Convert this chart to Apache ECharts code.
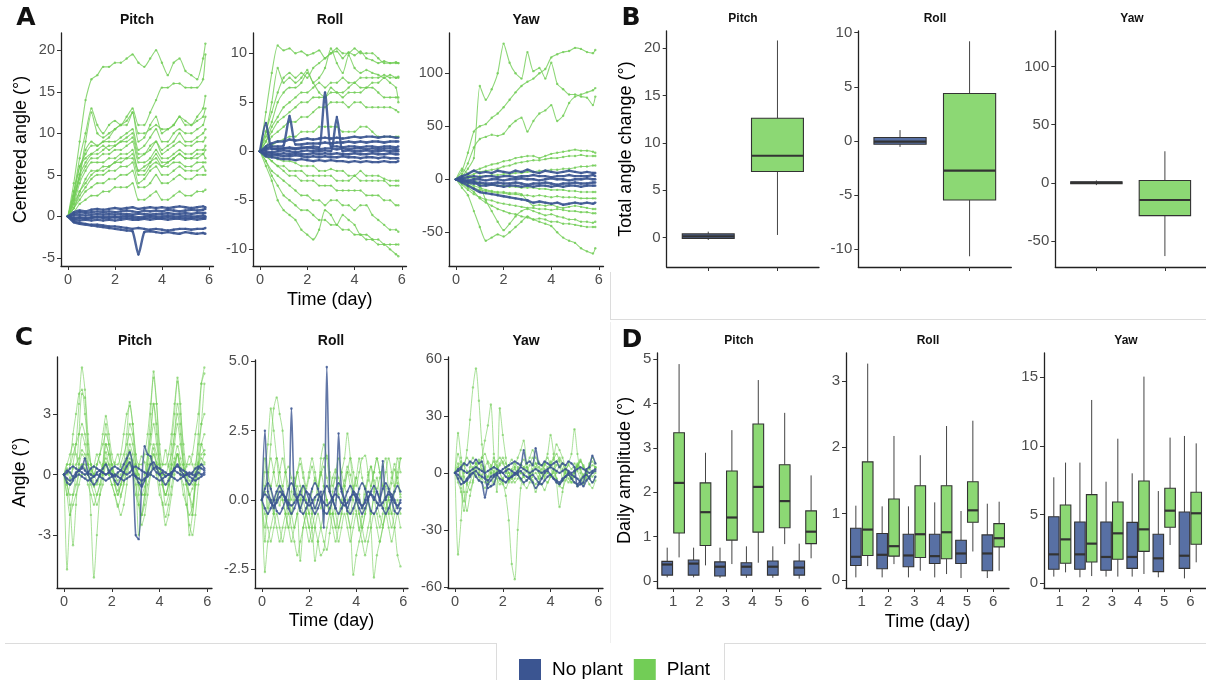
<!DOCTYPE html>
<html><head><meta charset="utf-8">
<script src="https://cdn.jsdelivr.net/npm/echarts@6/dist/echarts.min.js"></script>
<style>html,body{margin:0;padding:0;background:#fff}#c{width:1206px;height:680px}</style>
</head><body><div id="c"></div>
<script>
// ---------- DATA ----------
const groupNames = ['No plant', 'Plant'];
const timeA = [0,0.25,0.5,0.75,1,1.25,1.5,1.75,2,2.25,2.5,2.75,3,3.25,3.5,3.75,4,4.25,4.5,4.75,5,5.25,5.5,5.75,5.85];
const timeC = [0,0.125,0.25,0.375,0.5,0.625,0.75,0.875,1,1.125,1.25,1.375,1.5,1.625,1.75,1.875,2,2.125,2.25,2.375,2.5,2.625,2.75,2.875,3,3.125,3.25,3.375,3.5,3.625,3.75,3.875,4,4.125,4.25,4.375,4.5,4.625,4.75,4.875,5,5.125,5.25,5.375,5.5,5.625,5.75,5.875];

// A: centered angle, Pitch
const aPitchPlant = [
 [0,4,9,14,16.5, 17,18,18,18.5,18.5, 19,19.5,18.5,18,19, 20,18.5,17,18.5,19, 17.5,17,16.5,19,20.8],
 [0,3,7,10,13, 11,10,11,11.5,11, 12,13,11,11,12.5, 14,15.5,15.5,16,16, 15.5,15.5,15.5,16.5,19.5],
 [0,2,5,8,9, 8.5,9,9.5,10.5,11, 11.5,12.5,9,9.5,11, 12,10,10.5,11,12, 11.5,11,12,13,14.5],
 [0,3,6,7.5,8.5, 8.5,9,9,9,9.5, 10,10.5,8,8.5,9.5, 10.5,9,9,10,10.5, 10,10,10.5,11,12],
 [0,2.5,5,6.5,7.5, 8,8.5,8,8.5,9, 9,9.5,7,7.5,8, 9,7.5,8,8.5,9, 8.5,8.5,9,9,9.5],
 [0,2,4.5,6,7, 7,7.5,7.5,8,8, 8.5,9,6.5,6.5,7, 8,7,7,7.5,8, 7.5,7.5,8,8,8.5],
 [0,1.5,4,5.5,6.5, 6.5,6.5,7,7,7.5, 7.5,8,5.5,6,6.5, 7.5,6.5,6.5,7,7.5, 7,7,7,7.5,7],
 [0,1.5,3,4.5,5.5, 5.5,6,6,6.5,6.5, 7,7,5,5,6, 6.5,6,6,6.5,6.5, 6,6,6.5,6.5,6.5],
 [0,1,2.5,3.5,4.5, 5,5,5.5,5.5,6, 6,6.5,4,4.5,5.5, 6,5,5,5.5,6, 5.5,5.5,5.5,6,5.5],
 [0,1,2,3,3.5, 4,4,4.5,4.5,5, 5,5.5,3.5,3.5,4, 5,4,4,4.5,5, 4.5,4.5,5,5,5],
 [0,0.5,1.5,2,2.5, 2.5,3,3,3.5,3.5, 3.5,4,2,2,2.5, 3,2,2,2.5,3, 2.5,2.5,3,3,3.2],
 [0,2,5,9,12.5, 10,9.5,10,10.5,11, 11,12.5,10,10,10.5, 11,10.5,10.5,11,12, 11,11,11.5,12,13],
 [0,2.5,6,7,7.5, 7.5,8,8.5,8.5,9, 9.5,10,7.5,7.5,8.5, 9,8,8.5,9,10, 9,9,9.5,10,10.5],
 [0,1,3,4,5, 5.5,5.5,6,6.5,7, 7,7.5,5.5,5.5,6.5, 7,6,6.5,7,7.5, 7,7,7.5,7.5,8]
];
const aPitchNoPlant = [
 [0,0.3,0.5,0.4,0.5, 0.6,0.5,0.6,0.5,0.6, 0.7,0.6,0.5,0.7,0.6, 0.7,0.6,0.8,0.7,0.6, 0.7,0.8,0.7,0.8,0.9],
 [0,0.1,0.2,0.1,0.2, 0.3,0.2,0.3,0.2,0.3, 0.3,0.2,0.3,0.3,0.2, 0.3,0.3,0.4,0.3,0.3, 0.4,0.3,0.4,0.4,0.4],
 [0,-0.2,-0.1,-0.2,-0.1, 0,-0.1,0,-0.1,0, 0.1,0,-0.1,0,0.1, 0,0,0.1,0,0, 0.1,0,0,0.1,0],
 [0,-0.4,-0.5,-0.4,-0.5, -0.4,-0.5,-0.4,-0.5,-0.4, -0.3,-0.4,-0.4,-0.3,-0.4, -0.3,-0.3,-0.4,-0.3,-0.3, -0.4,-0.3,-0.4,-0.3,-0.3],
 [0,-0.6,-0.8,-0.9,-1, -1,-1.1,-1.2,-1.2,-1.3, -1.4,-1.5,-1.4,-1.5,-1.6, -1.5,-1.6,-1.7,-1.6,-1.5, -1.5,-1.6,-1.5,-1.5,-1.4],
 [0,-0.7,-0.9,-1,-1.1, -1.2,-1.3,-1.4,-1.5,-1.6, -1.7,-1.8,-4.6,-1.9,-1.8, -1.9,-2,-1.9,-2,-2.1, -1.9,-2,-2.1,-2,-2.1],
 [0,0.5,0.7,0.6,0.8, 0.9,0.8,0.9,1,0.9, 1,1.1,0.9,1,1.1, 1,1.1,1,1.1,1.2, 1.1,1,1.1,1.2,1.1],
 [0,-0.3,-0.2,-0.3,-0.2, -0.1,-0.2,-0.2,-0.1,-0.2, -0.1,-0.2,-0.3,-0.2,-0.1, -0.2,-0.2,-0.1,-0.2,-0.1, -0.2,-0.2,-0.1,-0.2,-0.1]
];
// A: Roll
const aRollPlant = [
 [0,4,8,10.8,10.3, 10.5,10,10.2,9.8,10, 10.3,9.5,10,10.2,9.5, 10.1,9.8,10.2,9.5,9.3, 9,9.2,9,9.1,9],
 [0,2,5,8.5,7, 7.5,7,7.5,8.3,7, 7.5,8.5,10.5,9,8, 9.8,8.5,8,8.3,8, 7.8,7.5,7.8,7.5,7.6],
 [0,1,2.5,3.5,4.5, 5,5.5,6,6,6.5, 7,6.5,7,7,7.5, 7,7,7.5,7.5,7.5, 7.5,7.8,7.5,7.5,7.5],
 [0,1.5,3,5,6, 6.5,6.5,7,8,7, 6,5.5,6.5,6,6, 6.5,7,6.5,6.5,7, 7,7.5,7,6.5,5],
 [0,1,2,3,3.5, 4,4.5,5,5,5.5, 5.5,5.5,6,6,5.5, 6,6,6,6.5,6.5, 6,5.5,5.5,5.5,5.5],
 [0,0.5,1.5,2,2.5, 3,3,3.5,3.5,4, 4.5,4.5,5,5,5, 4.5,5,5,4.5,4.5, 4.5,4.5,4.5,4.2,4],
 [0,-0.5,-1,-1.5,-1.5, -2,-2,-2,-2.5,-2.5, -2.5,-2.5,-2.5,-3,-3, -3,-2.5,-3,-3,-3, -3,-3,-3.5,-3.5,-3.5],
 [0,-0.5,-1,-1.5,-2, -2.5,-2.5,-3,-3,-3, -3.5,-3.5,-3.5,-4,-4, -4,-4,-4,-4.5,-4.5, -4.5,-5,-5,-5.5,-5.5],
 [0,-1,-2,-2.5,-3, -3.5,-4,-4.5,-4.5,-5, -5,-5.5,-5,-5,-5.5, -5.5,-6,-5.5,-5.5,-6.5, -7,-7.5,-8,-8,-8.2],
 [0,-1,-2.5,-3.5,-4.5, -5,-5.5,-6,-6,-6.5, -7,-7,-7.5,-7.5,-8, -8,-8.5,-8.5,-9,-9, -9,-9.5,-9.5,-9.5,-9.5],
 [0,-1.5,-3,-5,-6, -6.5,-7,-8,-8.5,-9, -8,-6,-6.5,-7.5,-6.5, -7,-7.5,-8.5,-8.5,-9, -9.5,-9.5,-10,-10.5,-10.7],
 [0,-0.3,-0.5,-0.8,-1, -1,-1.2,-1.5,-1.5,-1.5, -2,-2,-1.8,-2,-2, -2.5,-2.5,-2,-2.5,-2.5, -2.5,-2.8,-3,-3,-3],
 [0,2,4,6,7.5, 8,7.5,8,7.5,8.5, 9,9.5,10,10.5,10, 10,10.5,10,10,10, 9.5,9,9,9,9],
 [0,0.3,0.6,1,1.2, 1.5,1.5,2,2,2, 2.5,2.5,2.5,2.5,2, 2,2,2.5,2.5,2, 1.5,1.5,1.5,1.5,1.5]
];
const aRollNoPlant = [
 [0,0.5,0.8,1,1, 1.2,1.1,1.2,1.3,1.2, 1.3,1.4,1.3,1.4,1.3, 1.4,1.5,1.4,1.5,1.5, 1.4,1.5,1.5,1.4,1.4],
 [0,0.3,0.5,0.5,0.6, 3.6,0.7,0.7,0.8,0.8, 0.8,0.9,0.8,0.9,0.9, 1,0.9,1,0.9,1, 1,0.9,1,1,1],
 [0,2.9,0.2,0.3,0.3, 0.4,0.3,0.4,0.4,0.5, 0.4,6,0.5,0.5,0.4, 0.5,0.5,0.4,0.5,0.5, 0.4,0.5,0.5,0.4,0.5],
 [0,0,-0.1,0,0.1, 0,-0.1,0,0.1,0, 0,0.1,0,3.5,0, 0.1,0,0,0.1,0, 0,0.1,0,0,0],
 [0,-0.3,-0.4,-0.4,-0.5, -0.5,-0.4,-0.5,-0.6,-0.5, -0.6,-0.5,-0.6,-0.6,-0.5, -0.6,-0.6,-0.7,-0.6,-0.6, -0.7,-0.6,-0.7,-0.7,-0.7],
 [0,-0.5,-0.6,-0.7,-0.8, -0.8,-0.9,-0.8,-0.9,-1, -0.9,-1,-0.9,-1,-1, -1.1,-1,-1.1,-1,-1.1, -1.1,-1,-1.1,-1.1,-1],
 [0,0.2,0.3,0.2,0.3, 0.3,0.2,0.3,0.4,0.3, 0.2,0.3,0.3,0.2,0.3, 0.2,0.3,0.3,0.2,0.3, 0.2,0.3,0.3,0.2,0.2],
 [0,-0.2,-0.2,-0.3,-0.2, -0.3,-0.2,-0.3,-0.3,-0.2, -0.3,-0.2,-0.3,-0.2,-0.3, -0.3,-0.2,-0.3,-0.3,-0.2, -0.3,-0.3,-0.2,-0.3,-0.3]
];
// A: Yaw
const aYawPlant = [
 [0,8,25,45,50, 52,58,62,68,75, 82,88,92,95,100, 104,115,118,120,121, 124,123,120,119,122],
 [0,3,10,20,88, 75,85,100,128,110, 100,95,120,102,105, 95,110,90,85,80, 80,78,77,70,78],
 [0,5,15,30,38, 40,42,41,43,50, 55,58,45,55,62, 65,70,55,60,72, 78,80,82,84,86],
 [0,2,5,8,10, 12,14,15,17,18, 20,21,22,22,20, 22,24,25,26,27, 28,27,27,26,25],
 [0,1,3,5,7, 8,9,10,12,13, 15,16,17,18,18, 19,20,20,21,22, 22,23,22,22,22],
 [0,0,1,2,3, 3,4,4,5,5, 6,6,7,7,8, 8,9,9,10,10, 11,12,12,13,13],
 [0,-3,-5,-8,-10, -11,-12,-13,-13,-14, -14,-15,-15,-16,-15, -16,-17,-16,-17,-17, -17,-18,-18,-18,-18],
 [0,-5,-10,-14,-17, -19,-20,-22,-23,-24, -25,-26,-27,-27,-28, -28,-29,-28,-29,-30, -30,-31,-31,-32,-32],
 [0,-8,-15,-30,-45, -58,-55,-52,-54,-50, -45,-40,-35,-38,-40, -42,-44,-50,-55,-58, -60,-65,-68,-70,-65],
 [0,-4,-8,-12,-18, -22,-25,-28,-30,-32, -33,-35,-36,-38,-37, -38,-40,-40,-42,-42, -43,-44,-45,-45,-45],
 [0,-2,-4,-6,-8, -10,-11,-12,-12,-13, -13,-14,-20,-25,-24, -25,-24,-26,-27,-26, -25,-26,-27,-28,-28],
 [0,10,5,0,-5, -20,-30,-40,-48,-42, -35,-30,-28,-30,-32, -34,-33,-35,-36,-38, -38,-40,-40,-41,-40],
 [0,-1,-2,-3,-4, -5,-5,-6,-6,-7, -7,-8,-8,-8,-9, -9,-10,-10,-10,-11, -11,-12,-12,-12,-12]
];
const aYawNoPlant = [
 [0,3,5,8,6, 7,6,8,7,6, 8,7,9,7,6, 8,7,6,7,8, 7,6,7,6,6],
 [0,1,2,3,2, 3,3,2,3,3, 2,3,3,4,3, 3,2,3,3,4, 3,3,3,4,3],
 [0,0,-1,0,0, -1,0,0,-1,0, 0,1,0,0,-1, 0,1,0,0,-1, 0,0,1,0,0],
 [0,-2,-3,-4,-3, -4,-4,-3,-4,-4, -3,-4,-5,-4,-4, -3,-4,-5,-4,-4, -3,-4,-4,-3,-3],
 [0,-3,-6,-9,-12, -13,-14,-15,-16,-17, -18,-19,-20,-22,-21, -22,-23,-22,-24,-23, -22,-23,-22,-23,-22],
 [0,-1,-2,-2,-6, -6,-5,-6,-7,-6, -6,-7,-6,-7,-6, -6,-7,-6,-7,-6, -6,-7,-6,-6,-6]
];

// C: angle (detrended), Pitch
const cPitchPlant = [
 [0,-1,-0.5,0.5,1.5,3.5,5.3,4.2, 2,0.5,-0.5,-1,-0.5,0.5,2.5,1.5, 0.5,-0.5,-1,-0.5,0.5,2,3.6,2.5, 1,-1,-2,-1,1,3,5.1,3.5, 1,-0.5,-1,-0.5,1.5,3,4.8,3.5, 1,0,-1,-1.5,0,2,4.5,5.3],
 [0,-4.7,-2,-1,0,2,4,3.8, 1,-2,-5.1,-3,-1,0,1.5,1, 0,-0.5,-1,-0.5,0,1,2.5,2, 0.5,-0.5,-1,-1,0.5,2,3.5,2.5, 0.5,-0.5,-1.5,-1,0.5,2,3.5,2.5, 0.5,-0.5,-1,-2,-0.5,1,2.5,4.5],
 [0,-0.5,-1.5,-3.5,-1.5,0.5,2,1.5, 0.5,0,-0.5,-0.5,0,0.5,1.5,1, 0.5,0,-0.5,-1,-0.5,0.5,1.5,1, 0,-3,-2,-1,0.5,1.5,2.5,1.5, 0.5,-0.5,-1,-0.5,0.5,1.5,2.5,1.5, 0.5,-0.5,-3,-2,-0.5,0.5,1.5,2],
 [0,0.5,0.5,1,1.5,2,2.5,2, 1,0.5,0,0.5,1,1.5,2,1.5, 0.5,0,0,0.5,1,1.5,2,1.5, 0.5,0,-0.5,0,1,2,3.5,2, 0.5,0,0,0.5,1,2,3,2, 0.5,0,-0.5,0,0.5,1.5,2.5,3],
 [0,-0.5,-1,-1,-0.5,0,0.5,0.5, 0,-0.5,-1,-1.5,-1,-0.5,0.5,0, -0.5,-1,-1.5,-2,-1.5,-0.5,0.5,0, -0.5,-1.5,-2.5,-2,-1,0,1,0.5, -0.5,-1.5,-2.5,-2,-1,0,1,0, -0.5,-1.5,-2.5,-3,-2,-0.5,0.5,1],
 [0,0.5,1,1.5,1,0.5,1,0.8, 0.5,0,0.4,1,0.6,0.3,1.1,0.5, 0,0.6,1,0.4,0.1,0.7,1.2,0.5, -0.2,0.4,0.9,0.6,0,0.5,1.3,0.6, 0.1,0.5,1.2,0.4,-0.1,0.6,1,0.5, 0,0.4,0.9,0.5,0.1,0.6,1.5,1],
 [0,-1,-2,-1.5,-1,-0.5,0,0, -0.5,-1,-1.5,-1,-0.5,0,0.5,0, -0.5,-1,-1.6,-1.1,-0.4,0.1,0.6,0, -1,-1.5,-2,-1.5,-0.5,0,0.5,0, -1,-1.4,-2.1,-1.5,-0.6,0.4,1,0, -1,-1.5,-2,-1.6,-0.5,0,0.5,0.5],
 [0,0,0.5,2,3,4,4.2,3, 1.5,0.5,0,0.5,1,2,2.9,2, 1,0.5,0.5,1,2,3,3.4,2.5, 1,0.5,0.5,1,2,3.5,4.8,3.5, 1.5,0.5,0.5,1,2,3.5,4.6,3, 1.5,0.5,0.5,1,2,3,4.5,5],
 [0,0.3,-0.2,0.3,0.5,0.8,1.2,1, 0.5,0.2,0,-0.3,0,0.4,0.8,0.5, 0.2,0,-0.3,0,0.3,0.6,1,0.7, 0.3,0,-0.5,-0.3,0.2,0.8,1.5,1, 0.3,0,-0.5,-0.2,0.3,0.8,1.4,0.8, 0.3,0,-0.3,-0.5,0,0.5,1,1.2],
 [0,-0.3,-0.5,-0.2,0,0.3,0.5,0.3, 0,-0.3,-0.6,-0.4,0,0.3,0.6,0.2, 0,-0.4,-0.8,-0.5,0,0.3,0.8,0.4, 0,-0.5,-1,-0.6,0,0.5,1,0.5, 0,-0.5,-1,-0.5,0,0.5,1,0.3, 0,-0.5,-1,-0.7,-0.3,0.3,0.8,0.6]
];
const cPitchNoPlant = [
 [0,0.2,0.1,-0.1,0.1,0.2,0.3,0.8, 0.1,0,-0.1,0.1,0.2,0.1,0,0.1, 0,-0.1,0.1,0.2,0.5,0.8,1.1,0.4, -3,-3.2,-0.5,1.4,1,0.9,0.3,0.1, 0,0.1,-0.1,0,0.1,0.2,0.1,0, -0.1,0,0.1,0,-0.1,0.1,0,0.1],
 [0,-0.2,-0.3,-0.2,-0.1,0,-0.1,-0.2, -0.3,-0.2,-0.1,0,-0.1,-0.2,-0.3,-0.2, -0.1,0,-0.1,-0.2,-0.3,-0.2,-0.1,0, -0.1,-0.2,-0.3,-0.2,-0.1,0,-0.1,-0.2, -0.3,-0.2,-0.1,0,-0.1,-0.2,-0.3,-0.2, -0.1,0,-0.1,-0.2,-0.3,-0.2,-0.1,0],
 [0,0.1,0.3,0.4,0.3,0.2,0.1,0, 0.1,0.3,0.4,0.3,0.2,0.1,0,0.1, 0.3,0.4,0.3,0.2,0.1,0,0.1,0.3, 0.4,0.3,0.2,0.1,0,0.1,0.3,0.4, 0.3,0.2,0.1,0,0.1,0.3,0.4,0.3, 0.2,0.1,0,0.1,0.3,0.4,0.3,0.2],
 [0,-0.4,-0.5,-0.3,0,0.2,0.4,0.2, 0,-0.3,-0.5,-0.3,0,0.3,0.5,0.2, 0,-0.3,-0.5,-0.2,0.1,0.4,0.6,0.2, -0.1,-0.4,-0.6,-0.3,0.1,0.5,0.6,0.3, 0,-0.3,-0.5,-0.3,0,0.3,0.5,0.2, 0,-0.3,-0.5,-0.3,0,0.3,0.5,0.3]
];
// C: Roll
const cRollPlant = [
 [0,-1.5,0.5,2,3.3,3.7,3.1,2.5, 1,0,-0.5,0.5,1,0.5,0,-0.5, -1,-0.5,0,0.5,1,0.5,0,-0.5, -0.5,0,0.5,1,1.5,2.4,1.5,0.5, 0,-0.5,-1,-0.5,0,0.5,1,1.5, 1,0.5,0,-0.5,0,0.5,1.5,1],
 [0,-2.6,-1.5,-1,-0.5,0,0.5,0, -0.5,-1,-1.5,-1,-0.5,0,0.5,0, -0.5,-1,-2.2,-1.5,-1,-0.5,0,-0.5, -1,-1.5,-1,-0.5,0,-0.5,-1,-2.7, -2,-1.5,-1,-0.5,0,-1,-2.8,-2, -1.5,-1,-0.5,0,-0.5,-1,-2,-2.4],
 [0,0.5,1,1.5,1,0.5,1,1.5, 1,0.5,0,0.5,1,1.5,1,0.5, 1,1.5,1,0.5,1,1.5,1.6,1, 0.5,1,1.5,1,0.5,1,1.5,1, 0.5,1,1.5,1.6,1,0.5,1,1.5, 1,0.5,1,1.5,1,0.5,1,1.5],
 [0,-0.5,-1,-1.5,-1,-0.5,-1,-1.5, -1,-0.5,-1,-1.5,-2,-1.5,-1,-0.5, -1,-1.5,-1,-0.5,-1,-1.5,-1.8,-1.2, -0.5,-1,-1.5,-1,-0.5,-1,-1.5,-1, -0.5,-1,-1.5,-2,-1.5,-1,-0.5,-1, -1.5,-1,-0.5,-1,-1.5,-1,-0.5,-1],
 [0,0.3,-0.3,0.5,-0.5,0.3,-0.2,0.5, 0,-0.5,0.3,0.8,0.2,-0.3,0.5,0, -0.5,0.3,0.8,0.2,-0.3,0.5,0,-0.5, 0.3,0.8,0.2,-0.3,0.5,0,-0.5,0.3, 0.8,0.2,-0.3,0.5,0,-0.5,0.3,0.8, 0.2,-0.3,0.5,0,-0.5,0.3,0.8,0.2],
 [0,1,2,3.3,2.5,1.5,0.5,0, -0.5,-1,-0.5,0,0.5,0,-0.5,-1, -1.5,-1,-0.5,0,1.5,2,1.5,0.5, -0.5,-1,-0.5,0,0.5,1,0.5,0, -0.4,-1.1,-0.6,0.2,0.7,1.2,0.4,-0.1, -0.6,-0.9,-0.3,0.1,0.6,1.1,0.6,0.1],
 [0,-1,-0.5,0,-0.5,-1,-1.5,-1, -0.5,0,-0.5,-1,-0.5,-2.2,-1,-0.5, 0,-0.5,-1,-1.5,-2,-1.8,-1,-0.5, 0,-0.5,-1,-0.5,0,-0.5,-1,-0.5, 0,-0.5,-1,-1.5,-1,-0.5,0,-0.5, -1,-0.5,0,-0.5,-1,-0.5,0,-0.5],
 [0,1.5,1,0.5,1,1.5,1,0.5, 1,1.2,0.8,0.5,1,1.3,0.8,0.4, 0.8,1.2,0.7,0.4,0.9,1.2,0.8,0.3, 0.8,1.1,0.8,0.4,0.7,1.2,0.9,0.4, 0.8,1.5,0.8,0.4,0.9,1.2,0.7,0.4, 0.8,1.2,1.5,0.4,0.8,1.3,0.8,1.5]
];
const cRollNoPlant = [
 [0,2.5,0.3,0,-0.3,0,0.3,0.2, 0,-0.2,3.3,0.2,0,-0.3,0,0.3, 0.2,0,-0.3,0,0.3,-1,4.8,0.3, 0,-0.3,2.4,0.3,0,-0.3,0,0.3, 0.2,0,-0.3,0,0.3,0.2,0,0.3, 0,1.4,0,0.3,0.2,0,-0.3,0],
 [0,-0.3,-0.5,-0.3,0,0.3,0.5,0.3, 0,-0.3,-0.5,-0.3,0,0.3,0.5,0.3, 0,-0.3,-0.5,-0.3,0,0.3,0.5,0.3, 0,-0.3,-0.5,-0.3,0,0.3,0.5,0.3, 0,-0.3,-0.5,-0.3,0,0.3,0.5,0.3, 0,-0.3,-0.5,-0.3,0,0.3,0.5,0.3],
 [0,0.2,0.1,-0.1,-0.2,-0.1,0.1,0.2, 0.1,-0.1,-0.2,-0.1,0.1,0.2,0.1,-0.1, -0.2,-0.1,0.1,0.2,0.1,-0.1,-0.2,-0.1, 0.1,0.2,0.1,-0.1,-0.2,-0.1,0.1,0.2, 0.1,-0.1,-0.2,-0.1,0.1,0.2,0.1,-0.1, -0.2,-0.1,0.1,0.2,0.1,-0.1,-0.2,-0.1],
 [0,0.4,0.6,0.4,0,-0.4,-0.5,-0.3, 0,0.4,0.6,0.4,0,-0.4,-0.5,-0.3, 0,0.4,0.6,0.4,0,-0.4,-0.5,-0.3, 0,0.4,0.6,0.4,0,-0.4,-0.5,-0.3, 0,0.4,0.6,0.4,0,-0.4,-0.5,-0.3, 0,0.4,0.6,0.4,0,-0.4,-0.5,-0.3]
];
// C: Yaw
const cYawPlant = [
 [0,-43,-25,0,12,28,45,55, 38,15,2,-5,0,8,4,0, -5,-12,-25,-48,-56,-30,-8,0, 3,-2,5,2,0,-3,4,8, 3,-2,0,4,-3,2,0,-5, 0,5,2,-3,0,3,-2,0],
 [0,21,8,-10,-20,-12,-5,5, 0,8,17,25,36,10,-10,34, 20,8,-5,0,3,8,12,17, 5,0,-5,-10,-5,0,5,10, 20,10,-5,-18,-10,0,5,10, 23,10,0,-5,0,5,8,5],
 [0,5,-8,-15,-5,3,8,5, 2,-3,-5,-2,3,6,3,0, -3,-5,-2,2,5,3,0,-2, -4,-2,2,5,3,0,-3,-5, -2,2,6,8,5,0,-3,-5, -2,3,6,4,0,-3,-5,-2],
 [0,-5,-10,-20,-10,-5,0,3, 5,8,10,5,0,-5,0,5, 8,5,0,-3,-5,-3,0,3, 5,8,12,8,5,0,-2,0, 5,8,15,12,8,3,0,-3, 0,3,6,3,0,-2,0,3],
 [0,10,4,-2,-6,-9,-4,1, 6,2,-1,-4,-7,-2,1,4, 6,1,-2,-5,-3,0,4,7, 3,-1,-4,-6,-2,2,5,3, 6,2,-3,-6,-4,1,4,2, 5,1,-3,-6,-2,2,4,3],
 [0,-3,2,5,8,5,2,-1, -4,-1,3,6,4,0,-3,-6, -3,0,4,7,3,-1,-4,-2, 1,4,8,5,1,-3,-1,2, 4,7,10,6,2,-2,-5,-2, 1,4,7,3,-1,-3,0,2],
 [0,2,-2,-5,-3,0,3,1, -2,-5,-8,-5,-2,1,-1,-4, -6,-8,-4,-1,2,-1,-3,-6, -8,-5,-2,0,-3,-6,-9,-5, -2,0,-3,-7,-8,-4,-1,-3, -5,-7,-4,-1,-3,-6,-8,-4],
 [0,3,6,4,1,-1,2,5, 7,4,1,-2,0,3,6,8, 5,2,0,-3,-1,2,5,3, 1,-2,0,3,6,4,2,0, -2,1,4,7,5,2,0,-2, 1,4,2,-1,1,4,6,3]
];
const cYawNoPlant = [
 [0,2,3,5,4,6,5,7, 5,6,-2,-8,-7,-6,-1,0, 2,3,4,5,6,5,4,12, 5,6,4,13,5,4,6,5, 4,5,6,3,5,4,6,5, 3,-7,-6,-5,2,3,9,5],
 [0,-1,-3,-5,-4,-2,0,1, -1,-2,-3,-4,-2,-1,0,1, 0,-2,-3,-2,-1,0,1,-1, -2,-3,-5,-8,-6,-3,0,1, -1,-3,-4,-5,-3,-2,0,-1, -2,-3,-5,-7,-4,-2,0,1],
 [0,1,2,1,0,1,2,3, 2,1,0,1,2,3,2,1, 0,1,2,1,0,1,3,2, 1,0,1,2,1,0,1,2, 3,2,1,0,1,2,1,0, 1,2,3,2,1,0,1,2],
 [0,-3,-6,-5,-3,-1,0,-2, -4,-5,-13,-6,-4,-2,-1,-3, -4,-5,-3,-2,0,-1,-3,-5, -4,-2,-1,-3,-5,-6,-4,-2, -1,-3,-5,-6,-4,-2,-1,-3, -5,-6,-4,-2,-1,-3,-5,-2]
];

// B: total angle change, box stats [min whisker, Q1, median, Q3, max whisker]
const bPositions = [1, 2]; // No plant, Plant
const bPitchNoPlant = [-0.25, -0.1, 0.14, 0.39, 0.63];
const bPitchPlant   = [0.28, 6.98, 8.64, 12.59, 20.8];
const bRollNoPlant  = [-0.55, -0.3, -0.06, 0.32, 1.0];
const bRollPlant    = [-10.65, -5.46, -2.75, 4.38, 9.2];
const bYawNoPlant   = [-2, -0.8, 0, 0.8, 2];
const bYawPlant     = [-63, -28.2, -14.8, 2.0, 27.1];

// D: daily amplitude per day, box stats [min, Q1, median, Q3, max]
const days = [1, 2, 3, 4, 5, 6];
const dPitchNoPlant = [[0.08,0.13,0.37,0.44,0.75],[0.08,0.13,0.39,0.47,0.75],[0.07,0.11,0.32,0.43,0.75],[0.07,0.13,0.32,0.41,0.78],[0.07,0.13,0.32,0.45,0.78],[0.05,0.13,0.30,0.45,0.84]];
const dPitchPlant   = [[0.53,1.08,2.21,3.34,4.89],[0.35,0.80,1.55,2.21,2.89],[0.38,0.92,1.43,2.48,3.40],[0.41,1.10,2.12,3.54,4.53],[0.83,1.20,1.80,2.62,3.79],[0.51,0.84,1.11,1.58,2.38]];
const dRollNoPlant  = [[0.04,0.22,0.35,0.78,1.12],[0.04,0.17,0.38,0.70,1.11],[0.04,0.20,0.37,0.69,1.11],[0.04,0.25,0.36,0.69,1.17],[0.03,0.25,0.40,0.60,1.04],[0.03,0.14,0.40,0.68,1.15]];
const dRollPlant    = [[0.21,0.37,0.76,1.78,3.26],[0.24,0.36,0.51,1.22,2.17],[0.14,0.34,0.69,1.42,1.88],[0.09,0.32,0.72,1.42,2.32],[0.43,0.87,1.05,1.48,2.40],[0.14,0.50,0.63,0.85,1.18]];
const dYawNoPlant   = [[0.49,1.02,2.11,4.85,7.72],[0.44,1.02,2.11,4.47,8.79],[0.49,0.95,1.92,4.47,7.40],[0.49,1.09,1.92,4.44,8.01],[0.44,0.85,1.82,3.57,6.72],[0.36,1.09,2.01,5.19,10.73]];
const dYawPlant     = [[0.80,1.46,3.20,5.70,8.79],[0.53,1.55,2.89,6.46,13.35],[0.49,1.75,3.64,5.92,10.53],[0.68,2.33,3.93,7.45,15.05],[2.79,4.08,5.29,6.92,10.61],[1.53,2.84,5.10,6.63,10.19]];

// Tick labels
const tickTime = [0, 2, 4, 6];
const ticksAPitch = [-5, 0, 5, 10, 15, 20];
const ticksARoll = [-10, -5, 0, 5, 10];
const ticksAYaw = [-50, 0, 50, 100];
const ticksCPitch = [-3, 0, 3];
const ticksCRoll = [-2.5, 0, 2.5, 5];
const ticksCYaw = [-60, -30, 0, 30, 60];
const ticksBPitch = [0, 5, 10, 15, 20];
const ticksBRoll = [-10, -5, 0, 5, 10];
const ticksBYaw = [-50, 0, 50, 100];
const ticksDPitch = [0, 1, 2, 3, 4, 5];
const ticksDRoll = [0, 1, 2, 3];
const ticksDYaw = [0, 5, 10, 15];

// ---------- STYLE / LAYOUT ----------
const C_NP = '#3b5591', C_P = '#72cd56', C_NP_BOX = '#5870a4', C_P_BOX = '#8cd874';
const FONT = 'Liberation Sans';
// [left, top, width, height, xmin, xmax, ymin, ymax]
const L = {
  aPitch: [61, 33, 152.5, 233, -0.295, 6.195, -5.975, 22.075],
  aRoll:  [253, 33, 153.5, 233, -0.295, 6.195, -11.7, 12.07],
  aYaw:   [449, 33, 154.5, 233, -0.295, 6.195, -81.8, 138],
  cPitch: [57, 357, 155, 231, -0.295, 6.195, -5.62, 5.82],
  cRoll:  [255, 360, 153, 228, -0.295, 6.195, -3.18, 5.05],
  cYaw:   [448, 357, 155, 231, -0.295, 6.195, -60.6, 61],
  bPitch: [666.7, 31, 152.3, 236, 0.4, 2.6, -3.1, 21.8],
  bRoll:  [858.3, 31, 153, 236, 0.4, 2.6, -11.64, 10.15],
  bYaw:   [1055.3, 31, 151, 236, 0.4, 2.6, -72.4, 130.5],
  dPitch: [657.3, 353, 163.7, 235, 0.4, 6.6, -0.16, 5.14],
  dRoll:  [846, 353, 163, 235, 0.4, 6.6, -0.12, 3.42],
  dYaw:   [1044, 353, 162, 235, 0.4, 6.6, -0.34, 16.77]
};
const keys = Object.keys(L);
const gi = k => keys.indexOf(k);

const grids = keys.map(k => ({left: L[k][0], top: L[k][1], width: L[k][2], height: L[k][3], containLabel: false}));

function axis(k, dir, ticks, o) {
  o = o || {};
  const isX = dir === 'x';
  return {
    type: 'value', gridIndex: gi(k),
    min: isX ? L[k][4] : L[k][6], max: isX ? L[k][5] : L[k][7],
    position: isX ? 'bottom' : 'left',
    axisLine: {show: true, onZero: false, lineStyle: {color: '#222', width: 1.3}},
    axisTick: {show: true, length: 4, customValues: ticks, lineStyle: {color: '#333', width: 1}},
    axisLabel: {show: !o.hide, customValues: ticks, color: '#4d4d4d', fontSize: o.fs || 14.5, fontFamily: FONT,
                margin: o.margin || 6, formatter: o.fmt},
    splitLine: {show: false},
    name: o.name || '', nameLocation: 'middle', nameGap: o.nameGap || 20,
    nameTextStyle: {color: '#000', fontSize: 18, fontFamily: FONT}
  };
}

const xAxes = [
  axis('aPitch','x',tickTime), axis('aRoll','x',tickTime,{name:'Time (day)', nameGap:25}), axis('aYaw','x',tickTime),
  axis('cPitch','x',tickTime), axis('cRoll','x',tickTime,{name:'Time (day)', nameGap:24}), axis('cYaw','x',tickTime),
  axis('bPitch','x',bPositions,{hide:true}), axis('bRoll','x',bPositions,{hide:true}), axis('bYaw','x',bPositions,{hide:true}),
  axis('dPitch','x',days,{fs:15}), axis('dRoll','x',days,{fs:15, name:'Time (day)', nameGap:25}), axis('dYaw','x',days,{fs:15})
];
const yAxes = [
  axis('aPitch','y',ticksAPitch,{name:'Centered angle (°)', nameGap:31}),
  axis('aRoll','y',ticksARoll), axis('aYaw','y',ticksAYaw),
  axis('cPitch','y',ticksCPitch,{name:'Angle (°)', nameGap:28}),
  axis('cRoll','y',ticksCRoll,{fmt: v => v.toFixed(1)}), axis('cYaw','y',ticksCYaw),
  axis('bPitch','y',ticksBPitch,{fs:15, name:'Total angle change (°)', nameGap:32}),
  axis('bRoll','y',ticksBRoll,{fs:15}), axis('bYaw','y',ticksBYaw,{fs:15}),
  axis('dPitch','y',ticksDPitch,{fs:15, name:'Daily amplitude (°)', nameGap:23}),
  axis('dRoll','y',ticksDRoll,{fs:15}), axis('dYaw','y',ticksDYaw,{fs:15})
];

// ---------- SERIES ----------
function boxSeries(k, xs, rows, off, w, fill, name) {
  const idx = gi(k);
  return {
    type: 'custom', name, xAxisIndex: idx, yAxisIndex: idx, silent: true, animation: false,
    itemStyle: {color: fill},
    data: rows.map((r, i) => [xs[i]].concat(r)),
    encode: {x: 0, y: [1, 2, 3, 4, 5]},
    renderItem: (params, api) => {
      const x = api.value(0) + off;
      const lo = api.coord([x, api.value(1)]), q1 = api.coord([x, api.value(2)]),
            md = api.coord([x, api.value(3)]), q3 = api.coord([x, api.value(4)]),
            hi = api.coord([x, api.value(5)]);
      const half = api.size([w, 0])[0] / 2, cx = md[0];
      return {type: 'group', children: [
        {type: 'line', shape: {x1: cx, y1: hi[1], x2: cx, y2: q3[1]}, style: {stroke: '#444', lineWidth: 1}},
        {type: 'line', shape: {x1: cx, y1: q1[1], x2: cx, y2: lo[1]}, style: {stroke: '#444', lineWidth: 1}},
        {type: 'rect', shape: {x: cx - half, y: q3[1], width: 2 * half, height: Math.max(q1[1] - q3[1], 1)},
          style: {fill: fill, stroke: '#333', lineWidth: 1.1}},
        {type: 'line', shape: {x1: cx - half, y1: md[1], x2: cx + half, y2: md[1]}, style: {stroke: '#333', lineWidth: 2.2}}
      ]};
    }
  };
}

function lineSeries(k, lines, times, color, name, opacity, width, z, smooth) {
  const idx = gi(k);
  return lines.map(vals => ({
    type: 'line', name, xAxisIndex: idx, yAxisIndex: idx, silent: true, animation: false,
    data: vals.map((v, i) => [times[i], v]),
    smooth: smooth,
    symbol: 'circle', symbolSize: 2.4, showSymbol: true, showAllSymbol: true,
    lineStyle: {color, width, opacity}, itemStyle: {color, opacity},
    emphasis: {disabled: true}, z
  }));
}

const series = [
  boxSeries('bPitch', [bPositions[0]], [bPitchNoPlant], 0, 0.75, C_NP_BOX, groupNames[0]),
  boxSeries('bPitch', [bPositions[1]], [bPitchPlant], 0, 0.75, C_P_BOX, groupNames[1]),
  boxSeries('bRoll', [bPositions[0]], [bRollNoPlant], 0, 0.75, C_NP_BOX, groupNames[0]),
  boxSeries('bRoll', [bPositions[1]], [bRollPlant], 0, 0.75, C_P_BOX, groupNames[1]),
  boxSeries('bYaw', [bPositions[0]], [bYawNoPlant], 0, 0.75, C_NP_BOX, groupNames[0]),
  boxSeries('bYaw', [bPositions[1]], [bYawPlant], 0, 0.75, C_P_BOX, groupNames[1]),
  boxSeries('dPitch', days, dPitchNoPlant, -0.225, 0.405, C_NP_BOX, groupNames[0]),
  boxSeries('dPitch', days, dPitchPlant, 0.225, 0.405, C_P_BOX, groupNames[1]),
  boxSeries('dRoll', days, dRollNoPlant, -0.225, 0.405, C_NP_BOX, groupNames[0]),
  boxSeries('dRoll', days, dRollPlant, 0.225, 0.405, C_P_BOX, groupNames[1]),
  boxSeries('dYaw', days, dYawNoPlant, -0.225, 0.405, C_NP_BOX, groupNames[0]),
  boxSeries('dYaw', days, dYawPlant, 0.225, 0.405, C_P_BOX, groupNames[1])
].concat(
  lineSeries('aPitch', aPitchPlant, timeA, C_P, groupNames[1], 0.8, 1.1, 2, 0.2),
  lineSeries('aPitch', aPitchNoPlant, timeA, C_NP, groupNames[0], 0.9, 2.4, 3, 0.2),
  lineSeries('aRoll', aRollPlant, timeA, C_P, groupNames[1], 0.8, 1.1, 2, 0.2),
  lineSeries('aRoll', aRollNoPlant, timeA, C_NP, groupNames[0], 0.9, 2.4, 3, 0.2),
  lineSeries('aYaw', aYawPlant, timeA, C_P, groupNames[1], 0.8, 1.1, 2, 0.2),
  lineSeries('aYaw', aYawNoPlant, timeA, C_NP, groupNames[0], 0.9, 2.4, 3, 0.2),
  lineSeries('cPitch', cPitchPlant, timeC, C_P, groupNames[1], 0.6, 1, 2, 0.25),
  lineSeries('cPitch', cPitchNoPlant, timeC, C_NP, groupNames[0], 0.8, 1.6, 3, 0.25),
  lineSeries('cRoll', cRollPlant, timeC, C_P, groupNames[1], 0.6, 1, 2, 0.25),
  lineSeries('cRoll', cRollNoPlant, timeC, C_NP, groupNames[0], 0.8, 1.6, 3, 0.25),
  lineSeries('cYaw', cYawPlant, timeC, C_P, groupNames[1], 0.6, 1, 2, 0.25),
  lineSeries('cYaw', cYawNoPlant, timeC, C_NP, groupNames[0], 0.8, 1.6, 3, 0.25)
);

// ---------- TEXT / DECORATION ----------
function txt(s, x, y, font) {
  return {type: 'text', x, y, silent: true, style: {text: s, font, fill: '#111', textAlign: 'center', textVerticalAlign: 'middle'}};
}
function ln(x1, y1, x2, y2, c) {
  return {type: 'line', silent: true, shape: {x1, y1, x2, y2}, style: {stroke: c || '#dcdcdc', lineWidth: 1}};
}
const tA = 'bold 14px "Liberation Sans"', tB = 'bold 12px "Liberation Sans"', tL = 'bold 25px "DejaVu Sans"';
const graphic = [
  txt('A', 26, 18, tL), txt('B', 631, 18, tL), txt('C', 24, 338, tL), txt('D', 632, 340, tL),
  txt('Pitch', 137, 20.5, tA), txt('Roll', 330, 20.5, tA), txt('Yaw', 526, 20.5, tA),
  txt('Pitch', 135, 341.5, tA), txt('Roll', 331, 341.5, tA), txt('Yaw', 526, 341.5, tA),
  txt('Pitch', 743, 18.5, tB), txt('Roll', 935, 18.5, tB), txt('Yaw', 1132, 18.5, tB),
  txt('Pitch', 739, 341, tB), txt('Roll', 928, 341, tB), txt('Yaw', 1126, 341, tB),
  ln(610.5, 272, 610.5, 319), ln(610, 319.5, 1206, 319.5),
  ln(610.5, 322, 610.5, 643, '#efefef'),
  ln(5, 643.5, 496, 643.5), ln(725, 643.5, 1206, 643.5),
  ln(496.5, 643, 496.5, 680), ln(724.5, 643, 724.5, 680)
];

const chart = echarts.init(document.getElementById('c'), null, {renderer: 'canvas', width: 1206, height: 680});
chart.setOption({
  animation: false,
  backgroundColor: '#fff',
  grid: grids, xAxis: xAxes, yAxis: yAxes,
  legend: {
    left: 514, top: 654, itemWidth: 22, itemHeight: 21, itemGap: 11, selectedMode: false,
    textStyle: {fontSize: 19, color: '#000', fontFamily: FONT, padding: [0, 0, 0, 6]},
    data: [
      {name: groupNames[0], icon: 'rect', itemStyle: {color: C_NP, borderWidth: 0}},
      {name: groupNames[1], icon: 'rect', itemStyle: {color: C_P, borderWidth: 0}}
    ]
  },
  graphic: graphic,
  series: series
});
</script>
</body></html>
